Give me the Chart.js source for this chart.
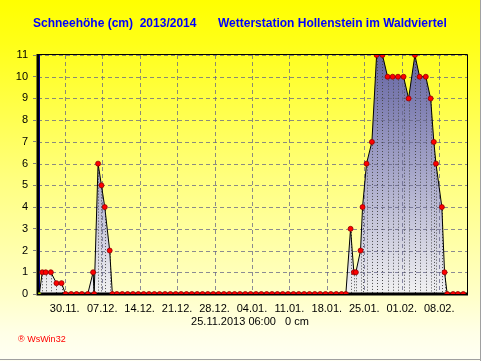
<!DOCTYPE html>
<html><head><meta charset="utf-8">
<script src="https://cdn.jsdelivr.net/npm/chart.js@4/dist/chart.umd.min.js"></script>
<style>html,body{margin:0;padding:0;background:#fff;overflow:hidden}canvas{display:block}</style>
</head><body>
<canvas id="c" width="481" height="361"></canvas>
<script>
// Days since 25.11.2013 00:00 of each reading
const readingDays = [
  0.25, 0.8, 1.45, 2.4, 3.45, 4.4, 5.15, 6.2, 7.2, 8.2, 9.3,
  10.3, 10.5, 11.23, 11.86, 12.48, 13.4, 13.9,
  14.75, 15.75, 16.75, 17.75, 18.75, 19.75, 20.75, 21.75, 22.75, 23.75,
  24.75, 25.75, 26.75, 27.75, 28.75, 29.75, 30.75, 31.75, 32.75, 33.75,
  34.75, 35.75, 36.75, 37.75, 38.75, 39.75, 40.75, 41.75, 42.75, 43.75,
  44.75, 45.75, 46.75, 47.75, 48.75, 49.75, 50.75, 51.75, 52.75, 53.75,
  54.75, 55.75, 56.75,
  57.55, 58.43, 59.05, 59.42, 60.3, 60.67, 61.42, 62.42, 63.3, 64.4,
  65.35, 66.3, 67.3, 68.34, 69.28, 70.46, 71.34, 72.5, 73.4, 74.0,
  74.4, 75.5, 76.0, 76.5, 77.6, 78.5, 79.5
];
// Snow depth in cm
const snowDepth = [
  0, 1, 1, 1, 0.5, 0.5, 0, 0, 0, 0, 0,
  1, 0, 6, 5, 4, 2, 0,
  0, 0, 0, 0, 0, 0, 0, 0, 0, 0,
  0, 0, 0, 0, 0, 0, 0, 0, 0, 0,
  0, 0, 0, 0, 0, 0, 0, 0, 0, 0,
  0, 0, 0, 0, 0, 0, 0, 0, 0, 0,
  0, 0, 0,
  0, 3, 1, 1, 2, 4, 6, 7, 11, 11,
  10, 10, 10, 10, 9, 11, 10, 10, 9, 7,
  6, 4, 1, 0, 0, 0, 0
];
const tickDays = [5, 12, 19, 26, 33, 40, 47, 54, 61, 68, 75];
const tickLabels = ['30.11.', '07.12.', '14.12.', '21.12.', '28.12.', '04.01.', '11.01.', '18.01.', '25.01.', '01.02.', '08.02.'];
const yMax = 11;
const titleLeft = 'Schneehöhe (cm)  2013/2014';
const titleRight = 'Wetterstation Hollenstein im Waldviertel';
const cursorDay = 0.25;
const cursorText = '25.11.2013 06:00   0 cm';
const creditText = '\u00AE WsWin32';

const FONT = '"Liberation Sans", Arial, sans-serif';

const decor = {
  id: 'decor',
  beforeDraw(chart) {
    const ctx = chart.ctx, W = chart.width, H = chart.height;
    ctx.save();
    const g = ctx.createLinearGradient(0, 0, 0, H);
    g.addColorStop(0, '#ffff00');
    g.addColorStop(0.12, '#ffff18');
    g.addColorStop(0.5, '#ffff80');
    g.addColorStop(0.82, '#ffffc8');
    g.addColorStop(0.92, '#ffffe6');
    g.addColorStop(1, '#fffff4');
    ctx.fillStyle = g;
    ctx.fillRect(0, 0, W, H);
    ctx.strokeStyle = '#a0a0a0';
    ctx.lineWidth = 1;
    ctx.beginPath();
    ctx.moveTo(0, H - 1.5); ctx.lineTo(W, H - 1.5);
    ctx.moveTo(W - 0.5, 0); ctx.lineTo(W - 0.5, H);
    ctx.stroke();
    ctx.restore();
  },
  beforeDatasetDraw(chart) {
    const ctx = chart.ctx, a = chart.chartArea, x = chart.scales.x, y = chart.scales.y;
    ctx.save();
    ctx.beginPath();
    ctx.rect(a.left, a.top, a.right - a.left, a.bottom - a.top);
    ctx.clip();
    // grid over fill
    ctx.lineWidth = 1;
    ctx.setLineDash([4, 3]);
    ctx.strokeStyle = 'rgba(100,100,135,0.75)';
    ctx.beginPath();
    y.ticks.forEach(t => {
      const py = Math.round(y.getPixelForValue(t.value)) + 0.5;
      ctx.moveTo(a.left, py); ctx.lineTo(a.right, py);
    });
    x.ticks.forEach(t => {
      const px = Math.round(x.getPixelForValue(t.value)) + 0.5;
      ctx.moveTo(px, a.top); ctx.lineTo(px, a.bottom);
    });
    ctx.stroke();
    // drop lines
    ctx.setLineDash([1, 2]);
    ctx.strokeStyle = '#4a4a4a';
    ctx.beginPath();
    readingDays.forEach((d, i) => {
      if (snowDepth[i] > 0) {
        const px = Math.round(x.getPixelForValue(d)) + 0.5;
        ctx.moveTo(px, y.getPixelForValue(snowDepth[i]));
        ctx.lineTo(px, y.getPixelForValue(0));
      }
    });
    ctx.stroke();
    // cursor line
    ctx.setLineDash([]);
    ctx.strokeStyle = '#0000ff';
    ctx.beginPath();
    const cx = Math.round(x.getPixelForValue(cursorDay)) + 0.5;
    ctx.moveTo(cx, a.top); ctx.lineTo(cx, a.bottom);
    ctx.stroke();
    ctx.restore();
    // frame
    ctx.save();
    ctx.strokeStyle = '#000';
    ctx.lineWidth = 1;
    ctx.beginPath();
    ctx.moveTo(a.left, a.top - 0.5); ctx.lineTo(a.right + 0.5, a.top - 0.5); ctx.lineTo(a.right + 0.5, a.bottom);
    ctx.stroke();
    ctx.lineWidth = 3;
    ctx.beginPath();
    ctx.moveTo(a.left, a.top - 1); ctx.lineTo(a.left, a.bottom);
    ctx.lineTo(a.right + 1, a.bottom);
    ctx.stroke();
    ctx.restore();
  },
  afterDraw(chart) {
    const ctx = chart.ctx;
    ctx.save();
    ctx.textBaseline = 'middle';
    ctx.textAlign = 'left';
    ctx.fillStyle = '#0000ff';
    ctx.font = 'bold 12px ' + FONT;
    ctx.fillText(titleLeft, 33, 23.5);
    ctx.fillText(titleRight, 218, 23.5);
    ctx.fillStyle = '#000';
    ctx.font = '11px ' + FONT;
    ctx.textAlign = 'center';
    ctx.fillText(cursorText, 250, 322);
    ctx.textAlign = 'left';
    ctx.fillStyle = '#ff0000';
    ctx.font = '9px ' + FONT;
    ctx.fillText(creditText, 18, 340);
    ctx.restore();
  }
};

new Chart(document.getElementById('c'), {
  type: 'line',
  data: {
    datasets: [{
      data: readingDays.map((d, i) => ({ x: d, y: snowDepth[i] })),
      borderColor: '#000',
      borderWidth: 1,
      tension: 0,
      fill: 'origin',
      backgroundColor: (ctx) => {
        const a = ctx.chart.chartArea;
        if (!a) return 'rgba(160,160,200,1)';
        const g = ctx.chart.ctx.createLinearGradient(0, a.top, 0, a.bottom);
        g.addColorStop(0, '#6464a2');
        g.addColorStop(0.5, '#a8a8ca');
        g.addColorStop(1, '#f2f2f2');
        return g;
      },
      pointRadius: (ctx) => ctx.dataIndex === 0 ? 1.5 : 2.5,
      pointBackgroundColor: (ctx) => ctx.dataIndex === 0 ? '#c8e000' : '#ff0000',
      pointBorderColor: (ctx) => ctx.dataIndex === 0 ? '#80a000' : '#900000',
      pointBorderWidth: 0.8
    }]
  },
  options: {
    responsive: false,
    animation: false,
    events: [],
    layout: { padding: { top: 55, right: 14, left: 0, bottom: 0 } },
    plugins: { legend: { display: false }, tooltip: { enabled: false }, title: { display: false } },
    scales: {
      x: {
        type: 'linear',
        min: 0,
        max: 80.2,
        afterFit: (s) => { s.height = 67; },
        afterBuildTicks: (s) => { s.ticks = tickDays.map(v => ({ value: v })); },
        ticks: {
          autoSkip: false, maxRotation: 0, padding: 8,
          color: '#000', font: { family: FONT, size: 11 },
          callback: (v) => { const i = tickDays.indexOf(v); return i >= 0 ? tickLabels[i] : ''; }
        },
        grid: { color: 'rgba(0,0,0,0)', drawTicks: false, tickLength: 0 },
        border: { display: false }
      },
      y: {
        min: 0,
        max: yMax,
        afterFit: (s) => { s.width = 38; },
        ticks: { stepSize: 1, padding: 5, color: '#000', font: { family: FONT, size: 11 } },
        grid: { color: 'rgba(0,0,0,0)', tickColor: '#808080', tickLength: 5, tickBorderDash: [3, 2], drawTicks: true },
        border: { display: false }
      }
    }
  },
  plugins: [decor]
});
</script>
</body></html>
